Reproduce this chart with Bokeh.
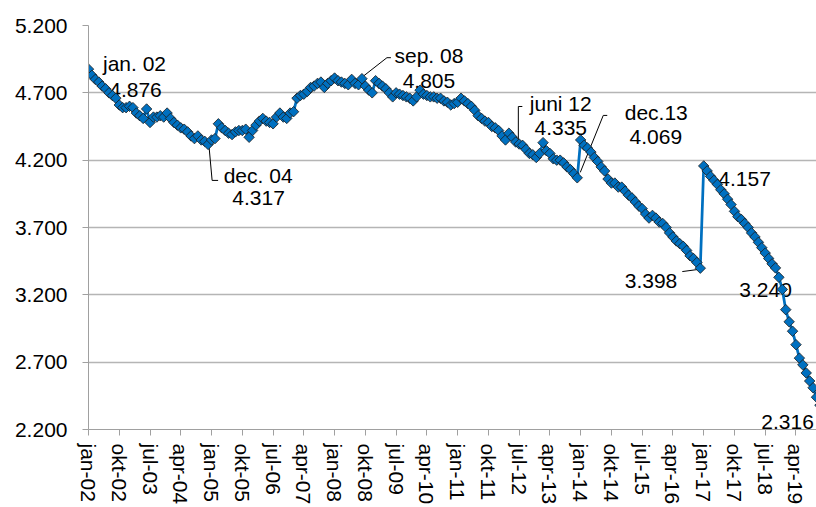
import math
from bokeh.plotting import figure
from bokeh.models import Range1d, FixedTicker, PrintfTickFormatter
from bokeh.core.properties import value
from bokeh.embed import file_html
from bokeh.resources import INLINE

# ---------------- data (monthly, jan-02 .. dec-19) ----------------
values = [
    # 2002
    4.876, 4.83, 4.80, 4.78, 4.75, 4.73, 4.70, 4.68, 4.66, 4.61, 4.59, 4.59,
    # 2003
    4.60, 4.59, 4.55, 4.53, 4.51, 4.58, 4.48, 4.52, 4.52, 4.53, 4.52, 4.55,
    # 2004
    4.51, 4.48, 4.46, 4.44, 4.43, 4.41, 4.38, 4.36, 4.38, 4.35, 4.34, 4.317,
    # 2005
    4.35, 4.36, 4.47, 4.44, 4.42, 4.40, 4.39, 4.41, 4.42, 4.42, 4.43, 4.37,
    # 2006
    4.42, 4.46, 4.49, 4.51, 4.49, 4.48, 4.47, 4.52, 4.55, 4.52, 4.51, 4.55,
    # 2007
    4.56, 4.66, 4.68, 4.69, 4.71, 4.74, 4.75, 4.77, 4.78, 4.74, 4.77, 4.79,
    # 2008
    4.81, 4.79, 4.78, 4.77, 4.76, 4.80, 4.77, 4.76, 4.805, 4.75, 4.72, 4.70,
    # 2009
    4.79, 4.77, 4.75, 4.73, 4.70, 4.67, 4.70, 4.69, 4.68, 4.67, 4.66, 4.64,
    # 2010
    4.67, 4.72, 4.69, 4.68, 4.67, 4.67, 4.66, 4.66, 4.64, 4.63, 4.61, 4.62,
    # 2011
    4.63, 4.66, 4.64, 4.62, 4.60, 4.57, 4.53, 4.51, 4.49, 4.48, 4.45, 4.44,
    # 2012
    4.42, 4.38, 4.35, 4.40, 4.37, 4.335, 4.32, 4.31, 4.28, 4.25, 4.24, 4.22,
    # 2013
    4.25, 4.33, 4.27, 4.25, 4.21, 4.20, 4.20, 4.18, 4.15, 4.13, 4.10, 4.069,
    # 2014
    4.35, 4.31, 4.29, 4.26, 4.22, 4.19, 4.15, 4.12, 4.06, 4.03, 4.03, 4.00,
    # 2015
    4.00, 3.97, 3.94, 3.92, 3.89, 3.86, 3.84, 3.80, 3.77, 3.79, 3.77, 3.74,
    # 2016
    3.73, 3.70, 3.66, 3.63, 3.60, 3.58, 3.56, 3.53, 3.49, 3.47, 3.44, 3.398,
    # 2017
    4.157, 4.12, 4.08, 4.05, 4.02, 3.98, 3.95, 3.91, 3.87, 3.82, 3.78, 3.76,
    # 2018
    3.73, 3.70, 3.66, 3.63, 3.59, 3.55, 3.51, 3.47, 3.43, 3.40, 3.33, 3.240,
    # 2019
    3.09, 3.00, 2.93, 2.83, 2.73, 2.68, 2.62, 2.56, 2.51, 2.44, 2.38, 2.316,
]
months = list(range(len(values)))

x_tick_labels = [
    "jan-02", "okt-02", "jul-03", "apr-04", "jan-05", "okt-05", "jul-06", "apr-07",
    "jan-08", "okt-08", "jul-09", "apr-10", "jan-11", "okt-11", "jul-12", "apr-13",
    "jan-14", "okt-14", "jul-15", "apr-16", "jan-17", "okt-17", "jul-18", "apr-19",
]
x_tick_step = 9
y_ticks = [2.2, 2.7, 3.2, 3.7, 4.2, 4.7, 5.2]

# annotated points: month index and title (None = value only)
ann_index = [0, 35, 80, 125, 143, 179, 180, 203, 215]
ann_title = ["jan. 02", "dec. 04", "sep. 08", "juni 12", "dec.13", None, None, None, None]

# ---------------- layout / style ----------------
W, H = 816, 507
BL, BR, BT, BB = 88, 0, 25, 78
FW, FH = W - BL - BR, H - BT - BB
X0, X1 = 0, 213
Y0, Y1 = 2.2, 5.2
XU = (X1 - X0) / FW
YU = (Y1 - Y0) / FH
FONT = "Liberation Sans"
FS = "21px"
BLUE = "#0070C0"

# pixel offsets relative to the annotated point (dx right, dy down)
ann_style = [
    dict(t=(46, -5.6), v=(47, 21), align="center", leader=None),
    dict(t=(50, 31), v=(50.5, 54), align="center", leader=[(1, 3), (4, 36), (10, 36)]),
    dict(t=(67, -23), v=(67, 2), align="center", leader=[(2, -3), (25, -21), (29, -21)]),
    dict(t=(45, -38.5), v=(45, -13.5), align="center", leader=[(2.6, -1.5), (2.6, -35.5), (6.6, -35.5)]),
    dict(t=(79, -65.4), v=(78.6, -40.4), align="center", leader=[(3, -5.4), (26, -62.4), (30, -62.4)]),
    dict(t=None, v=(-23, 12.4), align="right", leader=[(-18, 3.4), (-3, 1.4)]),
    dict(t=None, v=(14.6, 12.8), align="left", leader=None),
    dict(t=None, v=(-43, 1), align="left", leader=None),
    dict(t=None, v=(-62, 8.6), align="left", leader=None),
]


def at(i, d):
    dx, dy = d
    return months[i] + dx * XU, values[i] - dy * YU


p = figure(width=W, height=H, x_range=Range1d(X0, X1), y_range=Range1d(Y0, Y1),
           output_backend="svg", toolbar_location=None,
           min_border_left=BL, min_border_right=BR, min_border_top=BT, min_border_bottom=BB)
p.outline_line_color = None
p.background_fill_color = "white"
p.border_fill_color = "white"

p.xgrid.visible = False
p.ygrid.grid_line_color = "#b5b5b5"
p.ygrid.grid_line_width = 1.5

p.yaxis.ticker = FixedTicker(ticks=y_ticks)
p.yaxis.formatter = PrintfTickFormatter(format="%.3f")
x_tick_pos = [i * x_tick_step for i in range(len(x_tick_labels))]
p.xaxis.ticker = FixedTicker(ticks=x_tick_pos)
p.xaxis.major_label_overrides = {pos: lab for pos, lab in zip(x_tick_pos, x_tick_labels)}
p.xaxis.major_label_orientation = "vertical"

for ax in (p.xaxis[0], p.yaxis[0]):
    ax.axis_line_color = "#a0a0a0"
    ax.axis_line_width = 1
    ax.major_tick_line_color = "#a0a0a0"
    ax.major_tick_out = 6
    ax.major_tick_in = 0
    ax.minor_tick_line_color = None
    ax.major_label_text_font = FONT
    ax.major_label_text_font_size = FS
    ax.major_label_text_color = "black"
p.yaxis.major_label_standoff = 15
p.xaxis.major_label_standoff = 8

# annotations (drawn before the series so markers sit on top)
for idx, title, st in zip(ann_index, ann_title, ann_style):
    if idx >= len(values):
        continue
    if title is not None and st["t"] is not None:
        tx, ty = at(idx, st["t"])
        p.text(x=[tx], y=[ty], text=[title], text_font=value(FONT), text_font_size=FS,
               text_color="black", text_align=st["align"], text_baseline="alphabetic")
    vx, vy = at(idx, st["v"])
    p.text(x=[vx], y=[vy], text=["%.3f" % values[idx]], text_font=value(FONT), text_font_size=FS,
           text_color="black", text_align=st["align"], text_baseline="alphabetic")
    if st["leader"]:
        pts = [at(idx, d) for d in st["leader"]]
        p.line([q[0] for q in pts], [q[1] for q in pts], line_color="black", line_width=1)

p.line(months, values, line_color=BLUE, line_width=2.75)
p.scatter(months, values, marker="square", size=7.4, angle=math.pi / 4,
          fill_color=BLUE, line_color="#1a1a1a", line_width=0.8)

open("out.html", "w").write(file_html(p, INLINE))
